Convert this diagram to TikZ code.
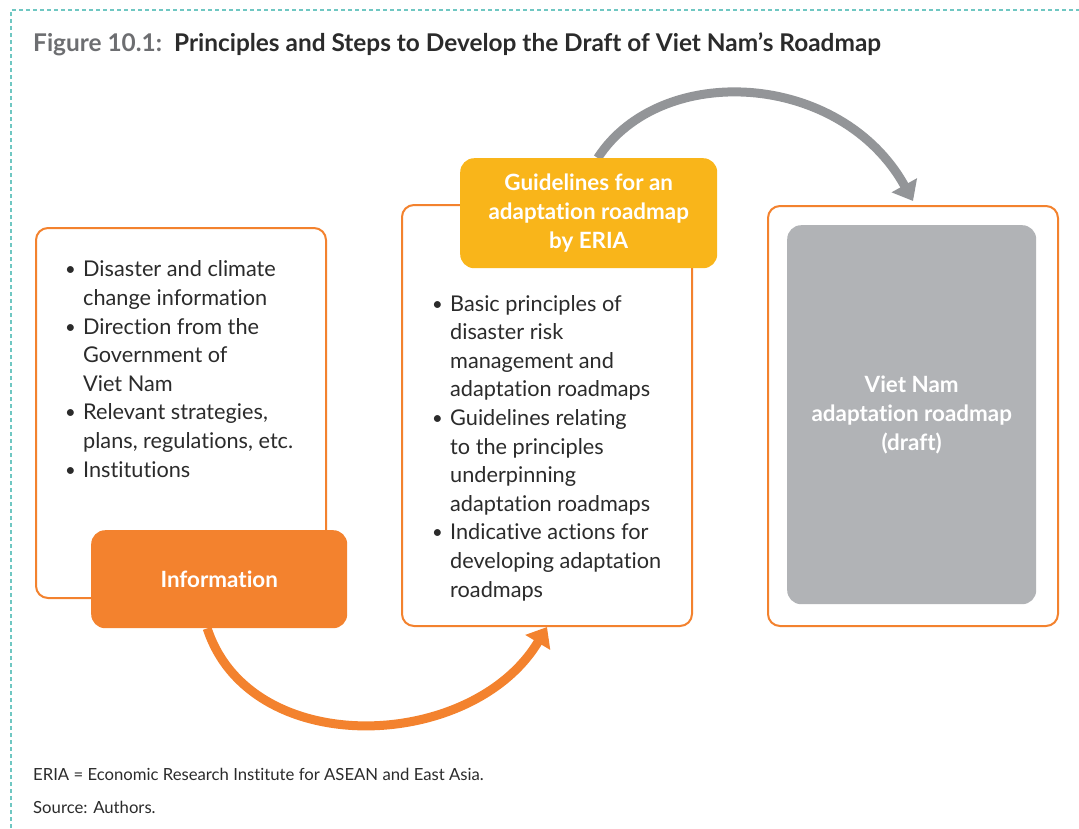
\documentclass[tikz,border=0pt]{standalone}
\usepackage{fontspec}
\setmainfont{Lato}[Ligatures=NoCommon]
\newfontfamily\blackfont{Lato Black}[Ligatures=NoCommon]
\usetikzlibrary{arrows.meta,backgrounds}
\definecolor{orng}{HTML}{F3822E}
\definecolor{yell}{HTML}{F9B51A}
\definecolor{gbox}{HTML}{B1B3B6}
\definecolor{garrow}{HTML}{939598}
\definecolor{txt}{HTML}{2B2B2B}
\definecolor{ttlgray}{HTML}{6D6E71}
\definecolor{tealc}{HTML}{6FC7C2}
\newcommand\bitem{\makebox[18pt][l]{\raisebox{1pt}{\scalebox{0.85}{•}}}}
\newcommand\bcont{\hspace*{18pt}}
\tikzset{
  obox/.style={draw=orng, line width=2pt, rounded corners=12pt, fill=white, anchor=north west, inner sep=0pt},
  fbox/.style={rounded corners=14pt, anchor=north west, inner sep=0pt, text=white, align=center,
    font=\fontsize{22.4}{29}\selectfont\bfseries},
  bodytxt/.style={anchor=base west, inner sep=0pt, align=left, text=txt,
    font=\fontsize{21.7}{28.6}\selectfont},
  foot/.style={anchor=base west, inner sep=0pt, text=txt, font=\fontsize{16.7}{22}\selectfont},
  bigarrow/.style={line width=9pt, -{Triangle[length=18pt,width=28pt]}}
}
\begin{document}
\begin{tikzpicture}[x=1pt,y=-1pt]
\useasboundingbox (0,0) rectangle (1079,828);
\draw[tealc, line width=1.5pt, dash pattern=on 4pt off 3pt] (11,828) -- (11,10) -- (1079,10);

\node[anchor=base west, inner sep=0pt, font=\fontsize{24.4}{28}\selectfont\bfseries] (title) at (33,51)
  {{\blackfont\color{ttlgray}Figure 10.1:}\hspace{12pt}{\color{txt}Principles and Steps to Develop the Draft of Viet Nam’s Roadmap}};

% boxes
\node[obox, minimum width=290, minimum height=370] (src) at (35,227) {};
\node[obox, minimum width=290, minimum height=421] (princ) at (401,204) {};
\node[obox, minimum width=290, minimum height=420] (out) at (767,205) {};

\node[fbox, fill=orng, minimum width=256, minimum height=98] (info) at (91,530) {Information};
\node[fbox, fill=yell, minimum width=257, minimum height=110] (guide) at (460,158)
  {Guidelines for an\\adaptation roadmap\\by ERIA};
\node[fbox, fill=gbox, minimum width=249, minimum height=379] (draft) at (787,225)
  {Viet Nam\\adaptation roadmap\\(draft)};

% multi-line text: base anchor is the last line
\node[bodytxt] (srctxt) at (65,477) {%
\bitem Disaster and climate\\
\bcont change information\\
\bitem Direction from the\\
\bcont Government of\\
\bcont Viet Nam\\
\bitem Relevant strategies,\\
\bcont plans, regulations, etc.\\
\bitem Institutions};

\node[bodytxt] (princtxt) at (432,597) {%
\bitem Basic principles of\\
\bcont disaster risk\\
\bcont management and\\
\bcont adaptation roadmaps\\
\bitem Guidelines relating\\
\bcont to the principles\\
\bcont underpinning\\
\bcont adaptation roadmaps\\
\bitem Indicative actions for\\
\bcont developing adaptation\\
\bcont roadmaps};

\node[foot] (f1) at (33,780) {ERIA = Economic Research Institute for ASEAN and East Asia.};
\node[foot] (f2) at (33,813) {Source: Authors.};

% arrows behind boxes
\begin{scope}[on background layer]
\draw[bigarrow, garrow] ([xshift=9pt]guide.north) .. controls +(63,-97) and +(-72,-130) .. ([yshift=4pt]out.north);
\draw[bigarrow, orng] ([xshift=-12pt]info.south) .. controls +(43,132) and +(-75,125) .. (princ.south);
\end{scope}
\end{tikzpicture}
\end{document}
